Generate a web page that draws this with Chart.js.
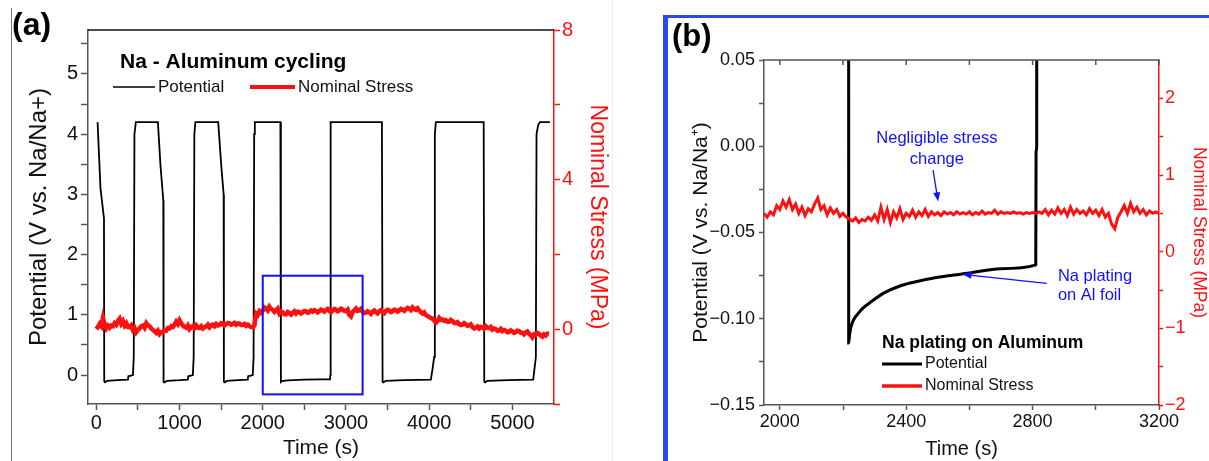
<!DOCTYPE html>
<html>
<head>
<meta charset="utf-8">
<script src="https://cdn.jsdelivr.net/npm/chart.js@4.4.0/dist/chart.umd.min.js"></script>
<style>
    body { margin: 0; background: #fff; }
    #wrap { position: relative; width: 1209px; height: 461px; overflow: hidden; background: #fff; }
    canvas { position: absolute; top: 0; }
    #chartA { left: 0; }
    #chartB { left: 650px; }
    .rule { position: absolute; }
</style>
</head>
<body>
<div id="wrap">
    <div class="rule" style="left:11px;top:8px;width:1px;height:453px;background:#777"></div>
    <div class="rule" style="left:612px;top:0;width:1px;height:461px;background:#eee"></div>
    <canvas id="chartA" width="650" height="461"></canvas>
    <canvas id="chartB" width="559" height="461"></canvas>
    <div class="rule" style="left:663px;top:15px;width:546px;height:3px;background:#2b4be6"></div>
    <div class="rule" style="left:663px;top:15px;width:5px;height:446px;background:#2b4be6"></div>
</div>
<script>
// Panel (a): full cycling run
const potentialTimeA = [15, 50, 92, 95, 105, 130, 250, 380, 385, 440, 450, 458, 475, 740, 770, 805, 808, 818, 850, 1000,
    1100, 1105, 1160, 1170, 1178, 1190, 1465, 1500, 1530, 1533, 1545, 1570, 1700, 1820, 1825, 1880, 1890, 1897, 1905, 2212,
    2218, 2230, 2300, 2500, 2700, 2808, 2812, 2816, 3432, 3440, 3450, 3480, 3700, 4020, 4040, 4060, 4068, 4080, 4655, 4662,
    4672, 4700, 4950, 5250, 5265, 5282, 5290, 5310, 5330, 5450];
const potentialA = [4.2, 3.1, 2.6, -0.10, -0.12, -0.095, -0.085, -0.075, -0.02, 0.0, 0.3, 4.0, 4.2, 4.2, 3.5, 2.9, -0.11, -0.12, -0.095, -0.085,
    -0.075, -0.02, 0.0, 0.3, 4.0, 4.2, 4.2, 3.5, 3.0, -0.11, -0.12, -0.095, -0.085, -0.075, -0.02, 0.0, 0.3, 4.0, 4.2, 4.2,
    -0.114, -0.10, -0.088, -0.076, -0.071, -0.069, 0.0, 4.2, 4.2, -0.11, -0.12, -0.095, -0.085, -0.075, 0.1, 0.3, 4.0, 4.2, 4.2, -0.11,
    -0.12, -0.095, -0.085, -0.075, 0.1, 0.3, 4.0, 4.15, 4.2, 4.2];

// stress sampled every 20 s from t = 0
const stressStartA = 0;
const stressStepA = 20;
const stressA = [
    0.00, 0.06, 0.14, 0.08, 0.30, 0.12, 0.02, 0.09, 0.04, 0.10,
    0.08, 0.16, 0.12, 0.22, 0.28, 0.15, 0.22, 0.10, 0.16, 0.06,
    0.05, 0.10, -0.02, 0.03, -0.08, -0.02, 0.02, 0.08, 0.10, 0.04,
    0.16, 0.10, 0.08, 0.02, -0.02, -0.06, -0.10, -0.04, -0.13, -0.08,
    -0.08, -0.02, -0.04, 0.03, 0.02, 0.08, 0.06, 0.12, 0.20, 0.14,
    0.24, 0.16, 0.10, 0.06, 0.04, 0.10, 0.00, 0.05, 0.08, 0.03,
    0.10, 0.04, 0.03, 0.08, 0.02, 0.06, 0.07, 0.12, 0.05, 0.10,
    0.12, 0.08, 0.14, 0.10, 0.11, 0.16, 0.15, 0.10, 0.13, 0.17,
    0.16, 0.12, 0.14, 0.17, 0.12, 0.15, 0.15, 0.11, 0.11, 0.14,
    0.09, 0.12, 0.08, 0.06, 0.05, 0.10, 0.42, 0.38, 0.48, 0.44,
    0.50, 0.58, 0.55, 0.50, 0.60, 0.54, 0.52, 0.46, 0.50, 0.55,
    0.42, 0.47, 0.45, 0.40, 0.40, 0.46, 0.43, 0.39, 0.44, 0.48,
    0.42, 0.47, 0.46, 0.42, 0.45, 0.49, 0.48, 0.44, 0.46, 0.50,
    0.47, 0.51, 0.49, 0.45, 0.48, 0.52, 0.50, 0.47, 0.51, 0.54,
    0.49, 0.45, 0.50, 0.54, 0.52, 0.48, 0.50, 0.55, 0.53, 0.49,
    0.48, 0.52, 0.38, 0.34, 0.46, 0.50, 0.55, 0.49, 0.50, 0.54,
    0.47, 0.43, 0.44, 0.48, 0.45, 0.41, 0.47, 0.50, 0.45, 0.42,
    0.48, 0.51, 0.46, 0.43, 0.49, 0.52, 0.50, 0.46, 0.48, 0.52,
    0.51, 0.47, 0.50, 0.54, 0.52, 0.49, 0.53, 0.57, 0.55, 0.51,
    0.58, 0.54, 0.52, 0.56, 0.50, 0.46, 0.42, 0.45, 0.38, 0.35,
    0.33, 0.30, 0.28, 0.24, 0.17, 0.22, 0.30, 0.25, 0.26, 0.22,
    0.24, 0.20, 0.20, 0.25, 0.22, 0.17, 0.16, 0.19, 0.14, 0.11,
    0.12, 0.16, 0.13, 0.09, 0.10, 0.13, 0.06, 0.02, 0.04, 0.07,
    0.02, 0.06, 0.05, 0.01, 0.08, 0.04, 0.03, 0.06, -0.01, 0.02,
    0.00, -0.04, -0.03, 0.01, -0.05, -0.02, -0.04, -0.08, -0.07, -0.03,
    -0.06, -0.10, -0.08, -0.04, -0.05, -0.09, -0.10, -0.14, -0.09, -0.06,
    -0.12, -0.16, -0.22, -0.14, -0.15, -0.10, -0.12, -0.17, -0.20, -0.14,
    -0.17, -0.12, -0.13];

const timeTicksA = [0, 500, 1000, 1500, 2000, 2500, 3000, 3500, 4000, 4500, 5000];
const potentialTicksA = [0, 0.5, 1, 1.5, 2, 2.5, 3, 3.5, 4, 4.5, 5, 5.5];
const stressTicksA = [-2, 0, 2, 4, 6, 8];
const zoomWindow = { tStart: 2000, tEnd: 3200, vLow: -0.32, vHigh: 1.65 };

// Panel (b): one plating step
const potentialTimeB = [1950, 2215, 2218, 2221, 2225, 2230, 2237, 2248, 2262, 2290, 2330, 2380, 2420, 2500, 2600, 2700, 2810, 2811, 2813, 2815, 3200];
const potentialB = [4.2, 4.2, -0.114, -0.109, -0.105, -0.102, -0.0995, -0.097, -0.094, -0.090, -0.085, -0.081, -0.079, -0.076, -0.0735, -0.071, -0.0688, -0.003, 0.0, 4.2, 4.2];

// stress sampled every 10 s from t = 1950
const stressStartB = 1950;
const stressStepB = 10;
const stressB = [
    0.50, 0.45, 0.52, 0.48, 0.60, 0.55, 0.66, 0.58, 0.68, 0.55,
    0.62, 0.50, 0.58, 0.47, 0.56, 0.52, 0.62, 0.70, 0.55, 0.60,
    0.48, 0.57, 0.50, 0.55, 0.46, 0.50, 0.45, 0.43, 0.40, 0.44,
    0.38, 0.42, 0.40, 0.45, 0.41, 0.48, 0.40, 0.58, 0.42, 0.55,
    0.38, 0.52, 0.44, 0.56, 0.42, 0.50, 0.46, 0.54, 0.45, 0.52,
    0.47, 0.55, 0.46, 0.52, 0.48, 0.51, 0.47, 0.52, 0.49, 0.51,
    0.48, 0.52, 0.49, 0.51, 0.49, 0.52, 0.48, 0.51, 0.49, 0.53,
    0.49, 0.51, 0.50, 0.54, 0.49, 0.52, 0.50, 0.51, 0.50, 0.52,
    0.50, 0.51, 0.49, 0.51, 0.50, 0.51, 0.50, 0.52, 0.50, 0.55,
    0.48, 0.54, 0.49, 0.57, 0.50, 0.55, 0.47, 0.58, 0.49, 0.55,
    0.50, 0.53, 0.48, 0.56, 0.50, 0.54, 0.47, 0.55, 0.45, 0.50,
    0.36, 0.30, 0.45, 0.52, 0.60, 0.50, 0.63, 0.52, 0.58, 0.50,
    0.55, 0.48, 0.53, 0.50, 0.52, 0.50];

const timeTicksB = [2000, 2200, 2400, 2600, 2800, 3000, 3200];
const potentialTicksB = [-0.15, -0.125, -0.1, -0.075, -0.05, -0.025, 0, 0.025, 0.05];
const stressTicksB = [-2, -1.5, -1, -0.5, 0, 0.5, 1, 1.5, 2];

const FONT = "'Liberation Sans', Arial, Helvetica, sans-serif";
const RED = '#ff1010';
const BLUE = '#1010ff';
const AXIS = '#555';

const setTicks = values => scale => { scale.ticks = values.map(v => ({ value: v })); };
const minus = s => s.replace('-', '\u2212');
const pairs = (xs, ys) => xs.map((x, i) => ({ x: x, y: ys[i] }));
const sampled = (start, step, ys) => ys.map((y, i) => ({ x: start + i * step, y: y }));

function drawArrow(ctx, x0, y0, x1, y1, color) {
    const ang = Math.atan2(y1 - y0, x1 - x0);
    const head = 9;
    ctx.strokeStyle = color;
    ctx.fillStyle = color;
    ctx.lineWidth = 1.3;
    ctx.beginPath();
    ctx.moveTo(x0, y0);
    ctx.lineTo(x1 - Math.cos(ang) * head * 0.8, y1 - Math.sin(ang) * head * 0.8);
    ctx.stroke();
    ctx.beginPath();
    ctx.moveTo(x1, y1);
    ctx.lineTo(x1 - head * Math.cos(ang) + 3.5 * Math.sin(ang), y1 - head * Math.sin(ang) - 3.5 * Math.cos(ang));
    ctx.lineTo(x1 - head * Math.cos(ang) - 3.5 * Math.sin(ang), y1 - head * Math.sin(ang) + 3.5 * Math.cos(ang));
    ctx.closePath();
    ctx.fill();
}

function legendRow(ctx, x, y, len, color, width, text, size) {
    ctx.strokeStyle = color;
    ctx.lineWidth = width;
    ctx.beginPath();
    ctx.moveTo(x, y);
    ctx.lineTo(x + len, y);
    ctx.stroke();
    ctx.fillStyle = '#111';
    ctx.font = size + 'px ' + FONT;
    ctx.textAlign = 'left';
    ctx.textBaseline = 'middle';
    ctx.fillText(text, x + len + 3, y);
}

const decorA = {
    id: 'decorA',
    afterDatasetsDraw(chart) {
        const { ctx, chartArea: a, scales: { x, y } } = chart;
        ctx.save();
        ctx.strokeStyle = '#111';
        ctx.lineWidth = 1.5;
        ctx.beginPath();
        ctx.moveTo(a.left, a.top);
        ctx.lineTo(a.right, a.top);
        ctx.stroke();

        const bx0 = x.getPixelForValue(zoomWindow.tStart);
        const bx1 = x.getPixelForValue(zoomWindow.tEnd);
        const by0 = y.getPixelForValue(zoomWindow.vHigh);
        const by1 = y.getPixelForValue(zoomWindow.vLow);
        ctx.strokeStyle = BLUE;
        ctx.lineWidth = 2;
        ctx.strokeRect(bx0, by0, bx1 - bx0, by1 - by0);

        ctx.fillStyle = '#000';
        ctx.font = 'bold 32px ' + FONT;
        ctx.textBaseline = 'middle';
        ctx.textAlign = 'left';
        ctx.fillText('(a)', 12, 26);

        ctx.font = 'bold 21px ' + FONT;
        ctx.fillText('Na - Aluminum cycling', a.left + 32, a.top + 32);
        legendRow(ctx, a.left + 25, a.top + 57, 42, '#000', 1.5, 'Potential', 17);
        legendRow(ctx, a.left + 162, a.top + 57, 45, RED, 4, 'Nominal Stress', 17);
        ctx.restore();
    }
};

const decorB = {
    id: 'decorB',
    afterDatasetsDraw(chart) {
        const { ctx, chartArea: a, scales: { x, y } } = chart;
        ctx.save();
        ctx.strokeStyle = AXIS;
        ctx.lineWidth = 1.5;
        ctx.beginPath();
        ctx.moveTo(a.left, a.top);
        ctx.lineTo(a.right, a.top);
        timeTicksB.forEach(t => {
            const px = x.getPixelForValue(t);
            ctx.moveTo(px, a.top);
            ctx.lineTo(px, a.top + 5);
        });
        ctx.stroke();

        ctx.fillStyle = '#000';
        ctx.font = 'bold 31px ' + FONT;
        ctx.textBaseline = 'middle';
        ctx.textAlign = 'left';
        ctx.fillText('(b)', 22, 37);

        ctx.fillStyle = BLUE;
        ctx.font = '16.5px ' + FONT;
        ctx.textAlign = 'center';
        ctx.fillText('Negligible stress', x.getPixelForValue(2497), y.getPixelForValue(0.0048));
        ctx.fillText('change', x.getPixelForValue(2497), y.getPixelForValue(-0.0074));
        drawArrow(ctx, x.getPixelForValue(2485), y.getPixelForValue(-0.0138),
            x.getPixelForValue(2501), y.getPixelForValue(-0.032), BLUE);

        ctx.fillStyle = BLUE;
        ctx.textAlign = 'left';
        ctx.fillText('Na plating', x.getPixelForValue(2880), y.getPixelForValue(-0.0757));
        ctx.fillText('on Al foil', x.getPixelForValue(2880), y.getPixelForValue(-0.0867));
        drawArrow(ctx, x.getPixelForValue(2844), y.getPixelForValue(-0.0795),
            x.getPixelForValue(2578), y.getPixelForValue(-0.0742), BLUE);

        ctx.fillStyle = '#000';
        ctx.font = 'bold 17.5px ' + FONT;
        ctx.fillText('Na plating on Aluminum', a.left + 118, a.top + 283);
        legendRow(ctx, a.left + 118, a.top + 304, 40, '#000', 3, 'Potential', 16);
        legendRow(ctx, a.left + 118, a.top + 326, 40, RED, 3.5, 'Nominal Stress', 16);
        ctx.restore();
    }
};

const tickFont = size => ({ family: FONT, size: size });

new Chart(document.getElementById('chartA'), {
    type: 'line',
    data: {
        datasets: [{
            label: 'Nominal Stress',
            data: sampled(stressStartA, stressStepA, stressA),
            yAxisID: 'y2',
            borderColor: RED,
            borderWidth: 4.5,
            pointRadius: 0,
            order: 0,
        }, {
            label: 'Potential',
            data: pairs(potentialTimeA, potentialA),
            yAxisID: 'y',
            borderColor: '#000',
            borderWidth: 1.8,
            pointRadius: 0,
            order: 1,
        }],
    },
    options: {
        responsive: false,
        animation: false,
        layout: { padding: { top: 30, left: 0, right: 0, bottom: 0 } },
        plugins: { legend: { display: false }, tooltip: { enabled: false } },
        scales: {
            x: {
                type: 'linear', min: -100, max: 5500,
                afterBuildTicks: setTicks(timeTicksA),
                afterFit: s => { s.height = 57; },
                ticks: { autoSkip: false, maxRotation: 0, padding: 1, color: '#111', font: tickFont(20),
                    callback: v => (v % 1000 === 0 ? String(v) : '') },
                grid: { drawOnChartArea: false, tickLength: 6, tickColor: AXIS, tickWidth: 1.5 },
                border: { color: AXIS, width: 1.5 },
                title: { display: true, text: 'Time (s)', color: '#111', font: tickFont(21), padding: 0 },
            },
            y: {
                type: 'linear', position: 'left', min: -0.48, max: 5.73,
                afterBuildTicks: setTicks(potentialTicksA),
                afterFit: s => { s.width = 88; },
                ticks: { autoSkip: false, padding: 3, color: '#111', font: tickFont(20),
                    callback: v => (Number.isInteger(v) ? String(v) : '') },
                grid: { drawOnChartArea: false, tickLength: 7, tickColor: AXIS, tickWidth: 1.5 },
                border: { color: AXIS, width: 1.5 },
                title: { display: true, text: 'Potential (V vs. Na/Na+)', color: '#111', font: tickFont(24),
                    padding: { top: 25, bottom: 0 } },
            },
            y2: {
                type: 'linear', position: 'right', min: -2, max: 8,
                afterBuildTicks: setTicks(stressTicksA),
                afterFit: s => { s.width = 96; },
                ticks: { autoSkip: false, padding: 2, color: RED, font: tickFont(20),
                    callback: v => (v % 4 === 0 ? String(v) : '') },
                grid: { drawOnChartArea: false, tickLength: 6, tickColor: RED, tickWidth: 1.5 },
                border: { color: RED, width: 1.5 },
                title: { display: true, text: 'Nominal Stress (MPa)', color: RED, font: tickFont(23),
                    padding: { top: 39, bottom: 0 } },
            },
        },
    },
    plugins: [decorA],
});

new Chart(document.getElementById('chartB'), {
    type: 'line',
    data: {
        datasets: [{
            label: 'Nominal Stress',
            data: sampled(stressStartB, stressStepB, stressB),
            yAxisID: 'y2',
            borderColor: RED,
            borderWidth: 3,
            pointRadius: 0,
            order: 0,
        }, {
            label: 'Potential',
            data: pairs(potentialTimeB, potentialB),
            yAxisID: 'y',
            borderColor: '#000',
            borderWidth: 3,
            pointRadius: 0,
            cubicInterpolationMode: 'monotone',
            order: 1,
        }],
    },
    options: {
        responsive: false,
        animation: false,
        layout: { padding: { top: 60, left: 0, right: 0, bottom: 0 } },
        plugins: { legend: { display: false }, tooltip: { enabled: false } },
        scales: {
            x: {
                type: 'linear', min: 1950, max: 3200,
                afterBuildTicks: setTicks(timeTicksB),
                afterFit: s => { s.height = 56; },
                ticks: { autoSkip: false, maxRotation: 0, padding: 1, color: '#111', font: tickFont(18),
                    callback: v => (v % 400 === 0 ? String(v) : '') },
                grid: { drawOnChartArea: false, tickLength: 5, tickColor: AXIS, tickWidth: 1.5 },
                border: { color: AXIS, width: 1.5 },
                title: { display: true, text: 'Time (s)', color: '#111', font: tickFont(20), padding: 0 },
            },
            y: {
                type: 'linear', position: 'left', min: -0.15, max: 0.05,
                afterBuildTicks: setTicks(potentialTicksB),
                afterFit: s => { s.width = 114; },
                ticks: { autoSkip: false, padding: 4, color: '#111', font: tickFont(18),
                    callback: v => (Math.abs(v * 20 - Math.round(v * 20)) < 1e-6 ? minus(v.toFixed(2)) : '') },
                grid: { drawOnChartArea: false, tickLength: 5, tickColor: AXIS, tickWidth: 1.5 },
                border: { color: AXIS, width: 1.5 },
                title: { display: true, text: 'Potential (V vs. Na/Na\u207A)', color: '#111', font: tickFont(21),
                    padding: { top: 39, bottom: 0 } },
            },
            y2: {
                type: 'linear', position: 'right', min: -2, max: 2.5,
                afterBuildTicks: setTicks(stressTicksB),
                afterFit: s => { s.width = 50; },
                ticks: { autoSkip: false, padding: 2, color: RED, font: tickFont(18),
                    callback: v => (Number.isInteger(v) ? minus(String(v)) : '') },
                grid: { drawOnChartArea: false, tickLength: 4, tickColor: RED, tickWidth: 1.5 },
                border: { color: RED, width: 1.5 },
                title: { display: true, text: 'Nominal Stress (MPa)', color: RED, font: tickFont(17.5),
                    padding: { top: 0, bottom: 0 } },
            },
        },
    },
    plugins: [decorB],
});
</script>
</body>
</html>
